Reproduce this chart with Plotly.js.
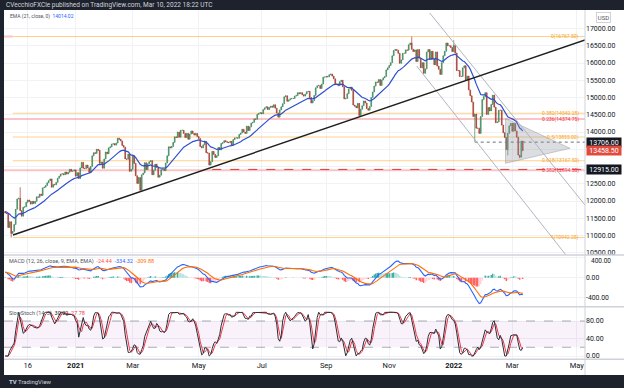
<!DOCTYPE html>
<html><head><meta charset="utf-8">
<script src="https://cdn.plot.ly/plotly-3.0.1.min.js"></script>
<style>html,body{margin:0;padding:0;background:#fff;}#chart{width:624px;height:388px;}</style>
</head><body><div id="chart"></div>
<script>
// ---- daily closes (bar index 0 = Oct 26 2020) ----
const closes2020 = [11650,11640,11230,11400,11060, 11120,11320,11760,12060,12080,
  11720,11560,11820,11830,11960, 12030,11990,11910,11990,11930,
  11990,12120,12110,12200,12160, 12380,12400,12450,12530,
  12590,12640,12400,12480,12470, 12540,12660,12720,12780,12790,
  12760,12840,12780,12830, 12920,12860,12870,12900];
const closes2021a = [12720,12820,12650,12960,13120,12950,12940,13040,12960,12820,13000,13310,13400,13380,13500,13470,13090,13130,12950,
  13220,13420,13370,13540,13570,13650,13660,13620,13680,13820,13790,13740,13610,13560,13220,13210,13360,12860,12920,
  13310,13090,12730,12510,12680,12310,12760,12810,13110,12910,13080,13140,13170,12760,12890,13070,12970,12690,12750,12910,12930,12880,13100,
  13310,13570,13540,13580,13700,13860,13840,14000,13850,14050,14050,13960,13840,13960,13790,13940,14030,13960,13910,13960,13870,
  13810,13580,13540,13630,13730,13400,13390,13040,13140,13440,13350,13260,13310,13550,13480,13670,13690,13750,13720,13700,
  13690,13730,13610,13780,13830,13830,13820,13930,13970,14080,14000,13960,14170,14040,14150,14260,14280,14380,14370,14510,14540,14560];
const closes2021b = [14530,14650,14700,14730,14650,14710,14750,14720,14790,14690,14550,14430,14640,14730,14820,15020,15050,14890,14930,14960,14970,
  14970,15040,15060,15140,15110,15140,15080,15040,15100,15170,15180,15000,14840,14910,15060,15280,15340,15350,15260,15390,15590,15590,
  15610,15600,15660,15680,15620,15540,15390,15390,15340,15460,15500,15310,14960,14970,15110,15250,15300,15210,14780,14750,14700,
  14830,14480,14660,14760,14900,14840,14680,14630,14740,15000,15160,15330,15450,15440,15520,15350,15510,15570,15610,15800,15860,
  15930,16010,16210,16360,16390,16370,16280,15990,16090,16280,16280,16380,16370,16530,16580,16400,16330,16380,16040,16390,16140,
  15860,16010,15700,15830,16320,16390,16100,16340,16110,15950,16320,15910,15820,15670,16010,16210,16340,16580,16500,16500,16450,16330];
const closes2022 = [16510,16290,15780,15780,15610,15610,15860,15920,15510,15620,15220,15050,14870,14450,14520,14110,14110,13960,14450,14940,
  15030,15140,14510,14710,14610,14800,15070,14720,14270,14290,14630,14630,14200,13980,13840,13490,13960,14180,14250,
  14020,14250,14030,13850,13330,13270,13740,13458.5];
const firstOpen = 11700;
const lowWickIdx = [4, 313, 335, 343];
const lowWickVal = [10942.25, 13720, 13321, 13240];
const highWickIdx = [10, 271, 299];
const highWickVal = [12400, 16767.5, 16660];

// indicator seeds (values read at the left edge)
const ema21Seed = 11690, ema12Seed = 11620, ema26Seed = 11500, signalSeed = 100;

// axes
const tickIdx = [15,47,85,129,171,214,256,299,338,381];
const tickText = ['16','<b>2021</b>','Mar','May','Jul','Sep','Nov','<b>2022</b>','Mar','May'];
const priceTicks = [10500,11000,11500,12000,12500,13000,13500,14000,14500,15000,15500,16000,16500,17000];
const hiddenPriceTicks = [13000,13500]; // covered by the price boxes in the reference
const macdTicks = [-400,0,400];
const macdTopLabel = '400.00'; // half hidden under the panel border in the reference
const stochTicks = [0,40,80];
const stochBand = [20,80];

// drawings
const fibLevels = [16767.5,14542.25,13855,13167.5,10942.25];
const fibLabels = ['0(16767.50)','0.382(14542.25)','0.5(13855.00)','0.618(13167.50)','1(10942.25)'];
const fibStart = 5;
const pinkLevels = [16767.5,14374.75,12894.5];
const pinkEnds = [5, 386.5, 386.5];
const pinkLabels = ['','0.236(14374.75)','0.382(12894.50)'];
const trendLine = [[5.2,11014],[386.5,16667]];
const channelUpper = [[283,17449],[386.5,11884]];
const channelLower = [[274.3,15913],[373.8,10435]];
const triangle = [[333.5,14397],[333.5,13093],[376.5,13527]];
const dottedLevel = {from:313, value:13706};
const redLevel = {from:138, value:12915};
const priceBoxes = [{v:13706,t:'13706.00',c:'#131722'},{v:13458.5,t:'13458.50',c:'#e04b3e'},{v:12915,t:'12915.00',c:'#131722'}];

// ---- build series ----
const closes = closes2020.concat(closes2021a, closes2021b, closes2022);
const idx = closes.map((_,i)=>i);
const opens = closes.map((c,i)=> i===0 ? firstOpen : closes[i-1]);
const highs = closes.map((c,i)=> Math.max(c, opens[i]));
const lows = closes.map((c,i)=> Math.min(c, opens[i]));
lowWickIdx.forEach((k,j)=>{ lows[k] = Math.min(lows[k], lowWickVal[j]); });
highWickIdx.forEach((k,j)=>{ highs[k] = Math.max(highs[k], highWickVal[j]); });

function ema(arr, n, seed){ const k=2/(n+1); let e=seed; return arr.map(v=>{ e=v*k+e*(1-k); return e; }); }
const ema21 = ema(closes,21,ema21Seed);
const e12 = ema(closes,12,ema12Seed), e26 = ema(closes,26,ema26Seed);
const macd = e12.map((v,i)=>v-e26[i]);
const signal = ema(macd,9,signalSeed);
const hist = macd.map((v,i)=>v-signal[i]);
const histColors = hist.map((h,i)=>{ const p = i>0?hist[i-1]:h;
  if (h>=0) return h>=p ? '#26a69a' : '#b2dfdb';
  return h<=p ? '#ff5252' : '#ffcdd2'; });
const raw = closes.map((c,i)=>{ const s=Math.max(0,i-13); let hh=-Infinity, ll=Infinity;
  for(let j=s;j<=i;j++){ hh=Math.max(hh,highs[j]); ll=Math.min(ll,lows[j]); }
  return hh>ll ? 100*(c-ll)/(hh-ll) : 50; });
function sma(arr,n){ return arr.map((_,i)=>{ const s=Math.max(0,i-n+1); let t=0; for(let j=s;j<=i;j++) t+=arr[j]; return t/(i-s+1); }); }
const stochK = sma(raw,3);
const stochD = sma(stochK,3);

// ---- layout helpers ----
const W=624, H=388;
const px = x=>x/W, py = y=>1-y/H;
const XR = [-0.8, 386.5];
const FONT = 'Roboto, Arial, sans-serif';

const traces = [
  {type:'candlestick', x:idx, open:opens, high:highs, low:lows, close:closes, xaxis:'x', yaxis:'y',
   increasing:{line:{color:'#3f8c60',width:0.7},fillcolor:'#3f8c60'},
   decreasing:{line:{color:'#a83d31',width:0.7},fillcolor:'#a83d31'},
   whiskerwidth:0, hoverinfo:'skip', showlegend:false},
  {type:'scatter', mode:'lines', x:idx, y:ema21, xaxis:'x', yaxis:'y', line:{color:'#2b4fcf',width:1.2}, hoverinfo:'skip'},
  {type:'bar', x:idx, y:hist, xaxis:'x', yaxis:'y2', marker:{color:histColors}, width:0.85, hoverinfo:'skip'},
  {type:'scatter', mode:'lines', x:idx, y:macd, xaxis:'x', yaxis:'y2', line:{color:'#2962ff',width:1.1}, hoverinfo:'skip'},
  {type:'scatter', mode:'lines', x:idx, y:signal, xaxis:'x', yaxis:'y2', line:{color:'#ff6d00',width:1.1}, hoverinfo:'skip'},
  {type:'scatter', mode:'lines', x:idx, y:stochD, xaxis:'x', yaxis:'y3', line:{color:'#f23645',width:1}, hoverinfo:'skip'},
  {type:'scatter', mode:'lines', x:idx, y:stochK, xaxis:'x', yaxis:'y3', line:{color:'#2a2e39',width:1}, hoverinfo:'skip'}
];

const shapes = [];
shapes.push({type:'rect', xref:'x', yref:'y3', x0:XR[0], x1:XR[1], y0:stochBand[0], y1:stochBand[1], fillcolor:'rgba(156,39,176,0.06)', line:{width:0}, layer:'between'});
stochBand.forEach(v=>shapes.push({type:'line', xref:'x', yref:'y3', x0:XR[0], x1:XR[1], y0:v, y1:v, line:{color:'#9598a1',width:0.8,dash:'dash'}, layer:'between'}));
pinkLevels.forEach((v,i)=>shapes.push({type:'line', xref:'x', yref:'y', x0:XR[0], x1:pinkEnds[i], y0:v, y1:v, line:{color:'rgba(242,54,69,0.3)',width:2}, layer:'between'}));
fibLevels.forEach(v=>shapes.push({type:'line', xref:'x', yref:'y', x0:fibStart, x1:XR[1], y0:v, y1:v, line:{color:'rgba(255,152,0,0.45)',width:1.1}, layer:'between'}));
shapes.push({type:'line', xref:'x', yref:'y', x0:redLevel.from, x1:XR[1], y0:redLevel.value, y1:redLevel.value, line:{color:'#e53935',width:1,dash:'dash'}, layer:'above'});
shapes.push({type:'line', xref:'x', yref:'y', x0:dottedLevel.from, x1:XR[1], y0:dottedLevel.value, y1:dottedLevel.value, line:{color:'#6a6d78',width:1,dash:'dot'}, layer:'above'});
shapes.push({type:'path', xref:'x', yref:'y', path:'M'+triangle.map(p=>p[0]+','+p[1]).join(' L')+' Z', fillcolor:'rgba(150,152,162,0.33)', line:{color:'rgba(150,152,162,0.6)',width:0.8}, layer:'above'});
[channelUpper, channelLower].forEach(l=>shapes.push({type:'line', xref:'x', yref:'y', x0:l[0][0], y0:l[0][1], x1:l[1][0], y1:l[1][1], line:{color:'#b2b5be',width:1}, layer:'above'}));
shapes.push({type:'line', xref:'x', yref:'y', x0:trendLine[0][0], y0:trendLine[0][1], x1:trendLine[1][0], y1:trendLine[1][1], line:{color:'#1f1f1f',width:1.4}, layer:'above'});
// frame
[255, 306.7, 359.3].forEach(y=>shapes.push({type:'line', xref:'paper', yref:'paper', x0:px(4), x1:1, y0:py(y), y1:py(y), line:{color:'#cfd2d9',width:1.5}, layer:'above'}));
shapes.push({type:'line', xref:'paper', yref:'paper', x0:px(585), x1:px(585), y0:py(375), y1:py(10), line:{color:'#cfd2d9',width:1}, layer:'above'});
shapes.push({type:'rect', xref:'paper', yref:'paper', x0:0, x1:1, y0:py(10), y1:1, fillcolor:'#1e222d', line:{width:0}, layer:'above'});
shapes.push({type:'rect', xref:'paper', yref:'paper', x0:0, x1:1, y0:0, y1:py(375), fillcolor:'#1e222d', line:{width:0}, layer:'above'});
shapes.push({type:'rect', xref:'paper', yref:'paper', x0:0, x1:px(4), y0:0, y1:1, fillcolor:'#1e222d', line:{width:0}, layer:'above'});

const ann = [];
ann.push({xref:'paper', yref:'paper', x:px(4), y:py(5), xanchor:'left', yanchor:'middle', showarrow:false,
  text:'CVecchioFXCle published on TradingView.com, Mar 10, 2022 18:22 UTC', font:{family:FONT,size:6.5,color:'#d1d4dc'}});
ann.push({xref:'paper', yref:'paper', x:px(8), y:py(16.7), xanchor:'left', yanchor:'middle', showarrow:false,
  text:'EMA (21, close, 0)  <span style="color:#2962ff">14014.02</span>', font:{family:FONT,size:5,color:'#50535e'}});
ann.push({xref:'paper', yref:'paper', x:px(7), y:py(261.7), xanchor:'left', yanchor:'middle', showarrow:false,
  text:'MACD (12, 26, close, 9, EMA, EMA)  <span style="color:#ff5252">-24.44</span>  <span style="color:#2962ff">-334.32</span>  <span style="color:#ff6d00">-309.88</span>', font:{family:FONT,size:5.5,color:'#50535e'}});
ann.push({xref:'paper', yref:'paper', x:px(7), y:py(313.5), xanchor:'left', yanchor:'middle', showarrow:false,
  text:'SlowStoch (14, 3)  <span style="color:#131722">30.22</span>  <span style="color:#f23645">27.78</span>', font:{family:FONT,size:5.5,color:'#50535e'}});
fibLevels.forEach((v,i)=>ann.push({xref:'paper', yref:'y', x:px(581), y:v, xanchor:'right', yanchor:'middle', showarrow:false,
  text:fibLabels[i], font:{family:FONT,size:5,color:'#f5a623'}}));
pinkLevels.forEach((v,i)=>{ if(pinkLabels[i]) ann.push({xref:'paper', yref:'y', x:px(581), y:v, xanchor:'right', yanchor:'middle', showarrow:false,
  text:pinkLabels[i], font:{family:FONT,size:5,color:'#f23645'}}); });
priceBoxes.forEach(b=>ann.push({xref:'paper', yref:'y', x:px(586), y:b.v, xanchor:'left', yanchor:'middle', showarrow:false,
  text:b.t, font:{family:FONT,size:7,color:'#ffffff'}, bgcolor:b.c, borderpad:1, width:32, height:7}));
ann.push({xref:'paper', yref:'paper', x:px(589), y:py(261), xanchor:'left', yanchor:'middle', showarrow:false,
  text:macdTopLabel, font:{family:FONT,size:6.5,color:'#131722'}});
ann.push({xref:'paper', yref:'paper', x:px(603), y:py(17.5), xanchor:'center', yanchor:'middle', showarrow:false,
  text:'USD', font:{family:FONT,size:6,color:'#50535e'}, bordercolor:'#c5c8d0', borderwidth:0.8, borderpad:1});
ann.push({xref:'paper', yref:'paper', x:px(7), y:py(381.5), xanchor:'left', yanchor:'middle', showarrow:false,
  text:'<b>TV</b> TradingView', font:{family:FONT,size:6,color:'#d1d4dc'}});

const axCommon = {showgrid:true, gridcolor:'#f0f2f6', gridwidth:1, zeroline:false, showline:false, ticks:'',
  tickfont:{family:FONT,size:7,color:'#131722'}, fixedrange:true};
const layout = {
  width:W, height:H, margin:{l:0,r:0,t:0,b:0}, paper_bgcolor:'#ffffff', plot_bgcolor:'#ffffff',
  showlegend:false, hovermode:false, font:{family:FONT},
  xaxis:Object.assign({}, axCommon, {domain:[px(4),px(585)], range:XR, anchor:'y3', tickmode:'array', tickvals:tickIdx, ticktext:tickText,
    tickfont:{family:FONT,size:7.5,color:'#131722'}, rangeslider:{visible:false}}),
  yaxis:Object.assign({}, axCommon, {domain:[py(255),py(10)], range:[10435,17536], side:'right', anchor:'x',
    tickmode:'array', tickvals:priceTicks, ticktext:priceTicks.map(v=>hiddenPriceTicks.includes(v)?'':v.toFixed(2))}),
  yaxis2:Object.assign({}, axCommon, {domain:[py(306.7),py(255)], range:[-580,454], side:'right', anchor:'x',
    tickmode:'array', tickvals:macdTicks, ticktext:macdTicks.map(v=>v===400?'':v.toFixed(2)), tickfont:{family:FONT,size:6.8,color:'#131722'}}),
  yaxis3:Object.assign({}, axCommon, {domain:[py(359.3),py(306.7)], range:[-7.5,112.7], side:'right', anchor:'x',
    tickmode:'array', tickvals:stochTicks, ticktext:stochTicks.map(v=>v.toFixed(2))}),
  shapes:shapes, annotations:ann
};
Plotly.newPlot('chart', traces, layout, {staticPlot:true, displayModeBar:false});
</script></body></html>
